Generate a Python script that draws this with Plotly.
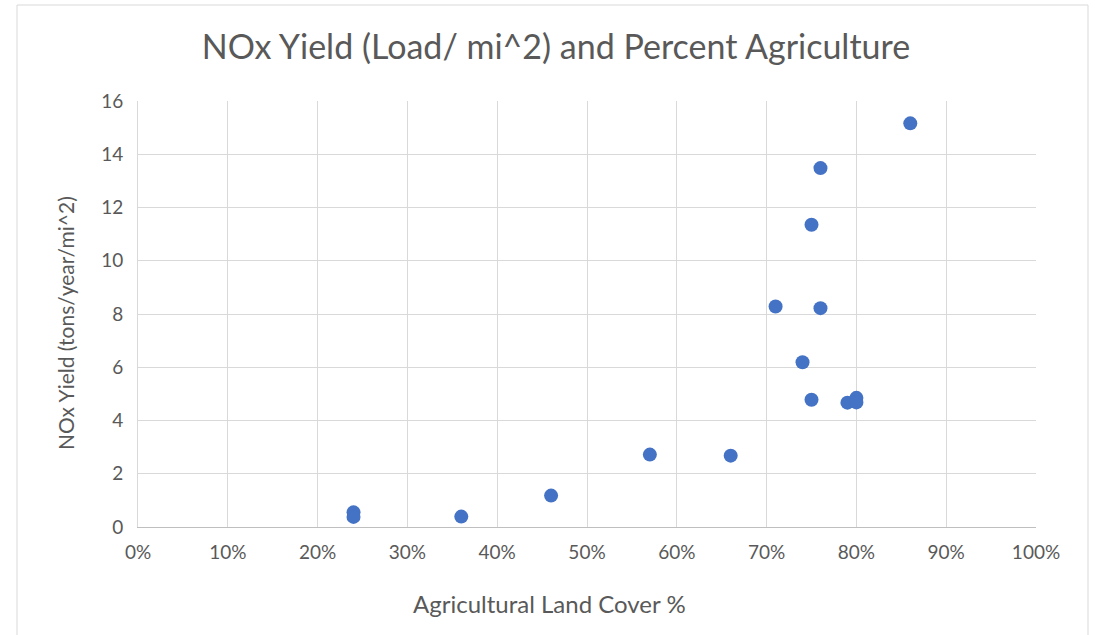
import plotly.graph_objects as go

ag_pct = [0.24, 0.24, 0.36, 0.46, 0.57, 0.66, 0.71, 0.74, 0.75, 0.75, 0.76, 0.76, 0.79, 0.80, 0.80, 0.86]
nox_yield = [0.55, 0.38, 0.39, 1.18, 2.72, 2.68, 8.28, 6.19, 11.35, 4.78, 13.48, 8.22, 4.67, 4.85, 4.68, 15.16]

W, H = 1095, 635
ml, mt = 138, 101
pw, ph = 1036 - 138, 527 - 101
mr = W - ml - pw
mb = H - mt - ph


def px_x(x):
    return (x - ml) / pw


def px_y(y):
    return ((mt + ph) - y) / ph


fig = go.Figure()
fig.add_trace(go.Scatter(
    x=ag_pct, y=nox_yield, mode="markers",
    marker=dict(size=14, color="#4472C4"),
    showlegend=False,
))

fig.update_layout(
    width=W, height=H,
    margin=dict(l=ml, r=mr, t=mt, b=mb),
    paper_bgcolor="white", plot_bgcolor="white",
    font=dict(family="Lato, 'Open Sans', sans-serif", color="#595959"),
    title=dict(text="NOx Yield (Load/ mi^2) and Percent Agriculture",
               x=556 / W, xanchor="center", y=1 - 47 / H, yanchor="middle",
               font=dict(size=34, color="#595959")),
    xaxis=dict(range=[0, 1], dtick=0.1, tickformat=".0%",
               showgrid=True, gridcolor="#D9D9D9", gridwidth=1,
               zeroline=False, showline=True, linecolor="#BFBFBF",
               ticks="", ticklabelstandoff=8, tickfont=dict(size=19, color="#595959")),
    yaxis=dict(range=[0, 16], dtick=2,
               showgrid=True, gridcolor="#D9D9D9", gridwidth=1,
               zeroline=False, showline=True, linecolor="#D9D9D9",
               ticks="", ticklabelstandoff=10, tickfont=dict(size=19, color="#595959")),
    annotations=[
        dict(text="Agricultural Land Cover %", xref="paper", yref="paper",
             x=px_x(549), y=px_y(603), xanchor="center", yanchor="middle",
             showarrow=False, font=dict(size=24, color="#595959")),
        dict(text="NOx Yield (tons/year/mi^2)", xref="paper", yref="paper",
             x=px_x(65), y=px_y(323), xanchor="center", yanchor="middle", textangle=-90,
             showarrow=False, font=dict(size=21, color="#595959")),
    ],
)
# outer chart border (pixel positions converted to paper coords)
fig.add_shape(type="rect", xref="paper", yref="paper",
              x0=px_x(17), x1=px_x(1088),
              y0=px_y(650), y1=px_y(5),
              line=dict(color="#D9D9D9", width=1), layer="below")
fig.write_html("out.html", config={"displayModeBar": False},
               post_script="document.body.style.margin='0';")
